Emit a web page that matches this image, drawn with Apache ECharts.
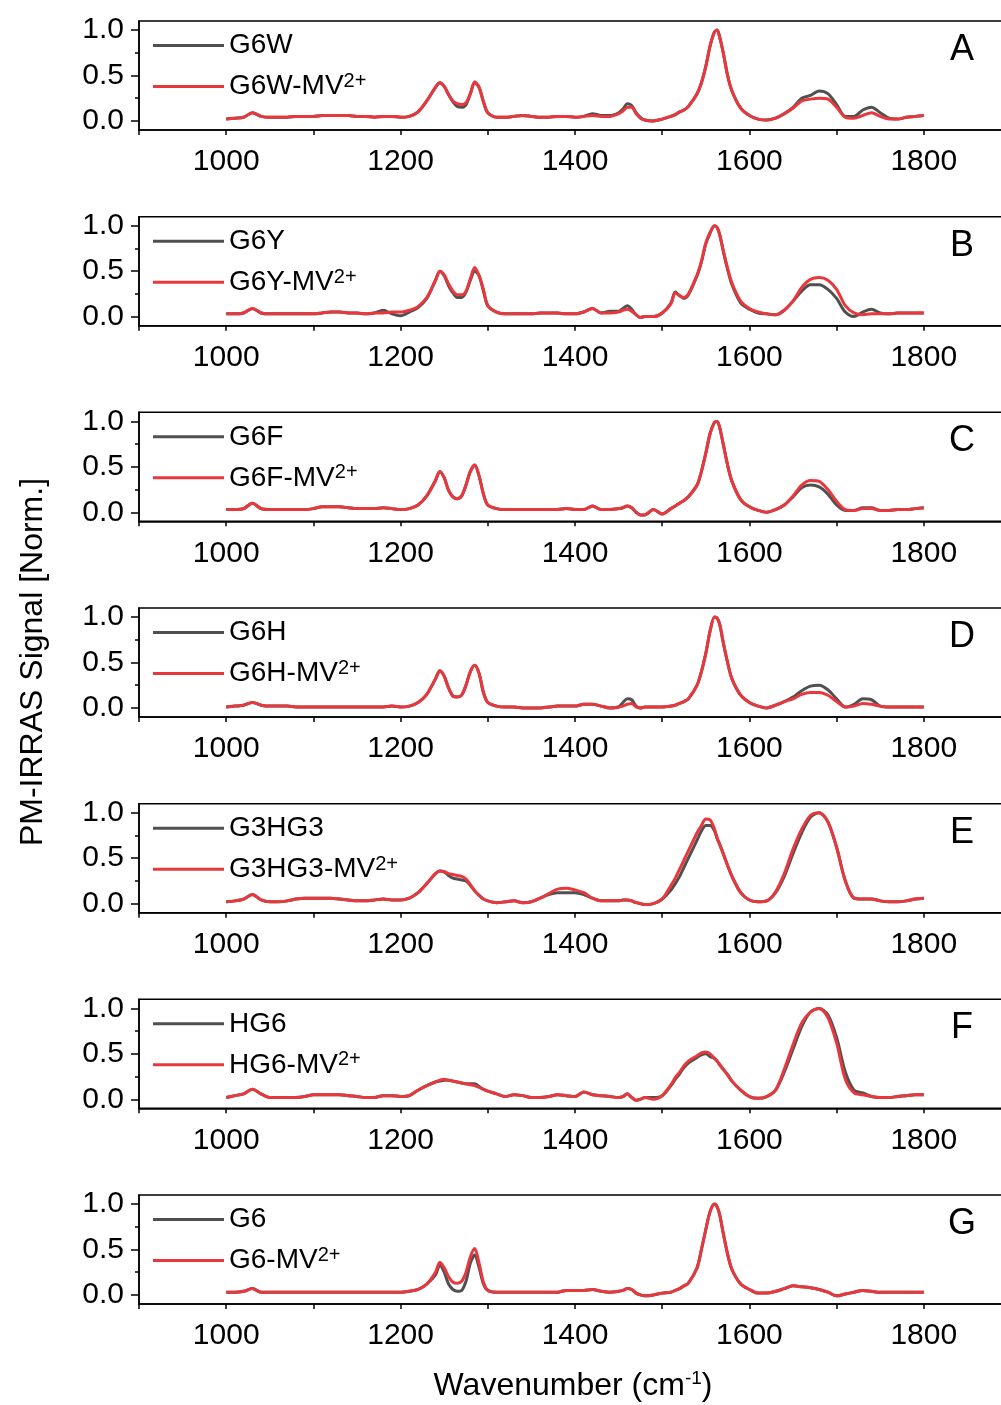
<!DOCTYPE html>
<html>
<head>
<meta charset="utf-8">
<title>PM-IRRAS spectra</title>
<script src="https://cdn.jsdelivr.net/npm/echarts@6/dist/echarts.min.js"></script>
<style>
  html, body { margin: 0; padding: 0; background: #fff; }
  #chart { width: 1001px; height: 1405px; }
</style>
</head>
<body>
<div id="chart"></div>
<script>
// wavenumber grid (cm-1), finer around the sharp bands
var wavenumber = [1000,1010,1020,1030,1040,1050,1060,1070,1080,1090,1100,1110,1120,1130,1140,1150,1160,1170,1180,1190,1200,1210,1220,1230,1240,
  1245,1250,1255,1260,1265,1270,1275,1280,1285,1290,1295,
  1300,1310,1320,1330,1340,1350,1360,1370,1380,1390,1400,1410,1420,1430,1440,1450,
  1455,1460,1465,1470,1475,
  1480,1490,1500,1510,
  1515,1520,1525,1530,
  1540,1545,1550,1555,1560,1563,1566,1570,1575,1580,
  1590,1600,1610,1620,1630,1640,1650,1660,1670,1680,1690,1700,1710,1720,1730,1740,1750,1760,1770,1780,1790,1800];

// panel A
var g6w = [.02,.03,.04,.09,.05,.04,.04,.04,.05,.05,.05,.06,.06,.06,.06,.05,.05,.04,.05,.05,.04,.05,.10,.22,.37,
  .42,.38,.29,.21,.16,.15,.18,.30,.42,.37,.21,
  .09,.04,.04,.05,.06,.05,.04,.04,.05,.05,.04,.05,.08,.06,.06,.09,
  .13,.19,.17,.09,.04,
  .01,.00,.02,.05,
  .07,.10,.12,.16,
  .30,.42,.60,.83,.98,1.00,.92,.75,.50,.33,
  .14,.06,.02,.01,.03,.08,.15,.25,.28,.33,.30,.18,.05,.05,.12,.15,.09,.03,.02,.04,.05,.06];
var g6wMv = [.02,.03,.04,.09,.05,.04,.04,.04,.05,.05,.05,.06,.06,.06,.06,.05,.05,.04,.05,.05,.04,.05,.10,.22,.37,
  .42,.38,.29,.22,.19,.18,.20,.30,.43,.37,.21,
  .09,.04,.04,.05,.06,.05,.04,.04,.05,.05,.04,.05,.06,.05,.05,.08,
  .11,.15,.15,.08,.03,
  .01,.00,.02,.05,
  .07,.10,.12,.16,
  .30,.42,.60,.83,.98,1.00,.92,.75,.50,.33,
  .14,.06,.02,.01,.03,.08,.14,.22,.24,.25,.24,.15,.04,.03,.06,.09,.05,.02,.02,.04,.05,.06];

// panel B
var g6y = [.03,.03,.04,.09,.04,.03,.03,.03,.03,.03,.03,.04,.05,.05,.04,.04,.03,.04,.07,.03,.01,.05,.10,.20,.40,
  .50,.45,.34,.26,.21,.21,.27,.40,.50,.45,.28,
  .12,.05,.03,.03,.03,.03,.04,.04,.04,.03,.03,.05,.09,.04,.06,.06,
  .09,.12,.08,.02,-.01,
  .00,.00,.04,.15,
  .27,.23,.20,.24,
  .45,.60,.80,.92,1.00,.98,.90,.72,.52,.35,
  .15,.08,.04,.03,.02,.07,.17,.28,.35,.35,.30,.20,.05,.00,.05,.08,.04,.03,.04,.04,.04,.04];
var g6yMv = [.03,.03,.04,.09,.04,.03,.03,.03,.03,.03,.03,.04,.05,.05,.04,.04,.03,.04,.04,.05,.05,.07,.11,.21,.40,
  .50,.46,.36,.28,.24,.24,.28,.42,.54,.45,.30,
  .12,.05,.03,.03,.03,.03,.04,.04,.04,.03,.03,.05,.09,.04,.04,.05,
  .07,.08,.06,.02,-.01,
  .00,.00,.04,.14,
  .26,.23,.21,.25,
  .46,.61,.81,.93,1.00,.98,.90,.73,.53,.37,
  .17,.09,.05,.03,.02,.07,.17,.32,.41,.43,.40,.30,.12,.04,.02,.03,.03,.03,.04,.04,.04,.04];

// panel C
var g6f = [.03,.03,.04,.10,.04,.03,.03,.03,.03,.03,.04,.06,.06,.06,.05,.04,.04,.04,.05,.04,.03,.04,.08,.18,.35,
  .45,.38,.24,.17,.15,.18,.30,.45,.52,.40,.20,
  .08,.04,.03,.03,.03,.03,.03,.03,.03,.04,.03,.03,.07,.03,.03,.04,
  .05,.07,.05,.00,-.03,
  -.03,.03,-.02,.04,
  .07,.10,.13,.17,
  .30,.45,.65,.87,.99,1.00,.93,.75,.52,.34,
  .14,.06,.02,.00,.03,.08,.17,.27,.30,.28,.20,.08,.02,.02,.05,.05,.02,.02,.03,.03,.04,.05];
var g6fMv = [.03,.03,.04,.10,.04,.03,.03,.03,.03,.03,.04,.06,.06,.06,.05,.04,.04,.04,.05,.04,.03,.04,.08,.18,.35,
  .45,.38,.24,.17,.15,.18,.30,.45,.52,.40,.20,
  .08,.04,.03,.03,.03,.03,.03,.03,.03,.04,.03,.03,.07,.03,.03,.04,
  .05,.07,.05,.00,-.03,
  -.03,.03,-.02,.04,
  .07,.10,.13,.17,
  .30,.45,.65,.87,.99,1.00,.93,.75,.52,.34,
  .14,.06,.02,.00,.03,.08,.18,.30,.35,.34,.25,.12,.03,.02,.04,.04,.02,.02,.03,.03,.04,.05];

// panel D
var g6h = [.01,.02,.03,.06,.03,.02,.02,.02,.01,.01,.01,.01,.01,.01,.01,.01,.01,.01,.01,.02,.01,.02,.06,.15,.32,
  .41,.35,.22,.13,.12,.14,.25,.40,.47,.38,.17,
  .06,.02,.01,.01,.00,.00,.00,.01,.02,.02,.02,.04,.04,.02,.00,.01,
  .06,.10,.09,.02,.00,
  .01,.01,.01,.02,
  .03,.05,.07,.10,
  .25,.40,.60,.85,1.00,.99,.92,.72,.50,.32,
  .14,.06,.02,.00,.03,.07,.12,.19,.24,.25,.20,.10,.01,.04,.10,.09,.02,.01,.01,.01,.01,.01];
var g6hMv = [.01,.02,.03,.06,.03,.02,.02,.02,.01,.01,.01,.01,.01,.01,.01,.01,.01,.01,.01,.02,.01,.02,.06,.15,.32,
  .41,.35,.22,.13,.12,.14,.25,.40,.47,.38,.17,
  .06,.02,.01,.01,.00,.00,.00,.01,.02,.02,.02,.04,.04,.02,.00,.01,
  .02,.04,.05,.01,.00,
  .01,.01,.01,.02,
  .03,.05,.07,.10,
  .25,.40,.60,.85,1.00,.99,.92,.72,.50,.32,
  .14,.06,.02,.00,.03,.07,.10,.15,.17,.17,.14,.07,.01,.02,.05,.04,.02,.01,.01,.01,.01,.01];

// panel E
var g3hg3 = [.02,.03,.05,.10,.04,.02,.02,.03,.05,.06,.06,.06,.06,.05,.04,.03,.03,.04,.05,.04,.04,.06,.12,.22,.33,
  .36,.35,.31,.28,.27,.26,.25,.20,.14,.09,.05,
  .03,.01,.02,.03,.01,.02,.06,.10,.12,.12,.12,.10,.06,.03,.03,.03,
  .04,.04,.03,.01,.00,
  -.01,.00,.05,.15,
  .22,.30,.40,.50,
  .70,.80,.86,.86,.80,.72,.65,.55,.42,.30,
  .12,.04,.02,.03,.12,.30,.55,.78,.95,1.00,.90,.62,.25,.06,.05,.05,.03,.02,.02,.03,.05,.06];
var g3hg3Mv = [.02,.03,.05,.10,.04,.02,.02,.03,.05,.06,.06,.06,.06,.05,.04,.03,.03,.04,.05,.04,.04,.06,.12,.22,.33,
  .36,.35,.33,.32,.31,.30,.27,.21,.14,.09,.05,
  .03,.01,.02,.03,.01,.02,.06,.11,.16,.17,.15,.12,.06,.03,.03,.03,
  .04,.04,.03,.01,.00,
  -.01,.00,.05,.20,
  .28,.38,.48,.58,
  .78,.86,.93,.92,.82,.72,.65,.55,.42,.30,
  .12,.04,.02,.03,.13,.33,.60,.82,.97,1.00,.90,.62,.25,.06,.05,.05,.03,.02,.02,.03,.05,.06];

// panel F
var hg6 = [.02,.04,.06,.11,.06,.02,.02,.02,.02,.03,.05,.05,.05,.05,.04,.03,.02,.02,.04,.04,.03,.04,.10,.15,.19,
  .20,.21,.21,.20,.19,.18,.17,.17,.17,.14,.11,
  .09,.06,.03,.05,.04,.02,.02,.03,.05,.04,.03,.08,.05,.04,.03,.02,
  .03,.06,.02,-.01,.00,
  .02,.02,.04,.15,
  .22,.28,.35,.40,
  .46,.49,.50,.47,.45,.42,.38,.33,.27,.20,
  .10,.03,.01,.03,.10,.30,.55,.80,.96,1.00,.93,.68,.30,.10,.07,.03,.02,.02,.03,.04,.05,.05];
var hg6Mv = [.02,.04,.06,.11,.06,.02,.02,.02,.02,.03,.05,.05,.05,.05,.04,.03,.02,.02,.04,.04,.03,.04,.10,.15,.19,
  .21,.22,.21,.20,.19,.18,.17,.16,.15,.13,.11,
  .09,.06,.03,.05,.04,.02,.02,.03,.05,.04,.03,.08,.05,.04,.03,.02,
  .03,.06,.02,-.01,.00,
  .02,.00,.04,.16,
  .24,.30,.37,.42,
  .48,.51,.52,.50,.45,.42,.38,.33,.27,.20,
  .10,.03,.01,.03,.10,.33,.60,.84,.96,1.00,.90,.62,.22,.07,.05,.03,.02,.02,.03,.04,.05,.05];

// panel G
var g6 = [.03,.03,.04,.07,.03,.03,.03,.03,.03,.03,.03,.03,.03,.03,.03,.03,.03,.03,.03,.03,.03,.04,.06,.12,.22,
  .33,.25,.12,.06,.04,.05,.15,.35,.44,.30,.12,
  .05,.03,.03,.03,.03,.03,.03,.03,.03,.05,.05,.05,.06,.04,.03,.04,
  .05,.07,.06,.02,.00,
  -.01,.00,.02,.03,
  .05,.07,.10,.13,
  .30,.50,.72,.92,1.00,.97,.88,.68,.45,.28,
  .12,.06,.02,.02,.04,.07,.10,.09,.08,.06,.03,-.01,.01,.03,.05,.04,.03,.03,.03,.03,.03,.03];
var g6Mv = [.03,.03,.04,.07,.03,.03,.03,.03,.03,.03,.03,.03,.03,.03,.03,.03,.03,.03,.03,.03,.03,.04,.06,.12,.25,
  .36,.30,.20,.14,.13,.15,.25,.42,.51,.35,.14,
  .05,.03,.03,.03,.03,.03,.03,.03,.03,.05,.05,.05,.06,.04,.03,.04,
  .05,.07,.06,.02,.00,
  -.01,.00,.02,.03,
  .05,.07,.10,.13,
  .30,.50,.72,.92,1.00,.97,.88,.68,.45,.28,
  .12,.06,.02,.02,.04,.07,.10,.09,.08,.06,.03,-.01,.01,.03,.05,.04,.03,.03,.03,.03,.03,.03];

// axis ticks / labels
var xLabels = [1000, 1200, 1400, 1600, 1800];
var yTicks = [0, 0.5, 1.0];
var yMinorTicks = [0.25, 0.75];
var panelLetters = ['A', 'B', 'C', 'D', 'E', 'F', 'G'];
var seriesNames = [
  ['G6W', 'G6W-MV2+'], ['G6Y', 'G6Y-MV2+'], ['G6F', 'G6F-MV2+'], ['G6H', 'G6H-MV2+'],
  ['G3HG3', 'G3HG3-MV2+'], ['HG6', 'HG6-MV2+'], ['G6', 'G6-MV2+']
];
var seriesValues = [
  [g6w, g6wMv], [g6y, g6yMv], [g6f, g6fMv], [g6h, g6hMv],
  [g3hg3, g3hg3Mv], [hg6, hg6Mv], [g6, g6Mv]
];

var FONT = '"Liberation Sans", Arial, sans-serif';
var colors = ['#505050', '#e8383d'];
var TOP0 = 21, STEP = 195.67, H = 109;

function pairs(vals) {
  return wavenumber.map(function (w, k) { return [w, vals[k]]; });
}

//写上标 MV2+
function legendText(name) {
  if (name.slice(-2) === '2+') return name.slice(0, -2) + '{sup|2+}';
  return name;
}

var grids = [], xAxes = [], yAxes = [], series = [], legends = [], graphics = [];

panelLetters.forEach(function (letter, i) {
  var top = TOP0 + i * STEP;
  // 右边框在画面外（原图被裁切）
  grids.push({
    left: 139, width: 872, top: top, height: H,
    outerBoundsMode: 'none', containLabel: false,
    show: true, borderColor: '#000', borderWidth: 1.5, backgroundColor: 'transparent'
  });
  xAxes.push({
    gridIndex: i, type: 'value', min: 900, max: 1900, interval: 100,
    axisLine: { show: true, onZero: false, lineStyle: { color: '#000', width: 1.5 } },
    axisTick: { show: true, length: 5, lineStyle: { color: '#000', width: 1.5 } },
    axisLabel: {
      customValues: xLabels, fontSize: 30, color: '#000', fontFamily: FONT, margin: 17,
      formatter: function (v) { return String(v); }
    },
    splitLine: { show: false }
  });
  yAxes.push({
    gridIndex: i, type: 'value', min: -0.1, max: 1.1, position: 'left',
    axisLine: { show: true, onZero: false, lineStyle: { color: '#000', width: 1.5 } },
    axisTick: { show: true, length: 8, customValues: yTicks, lineStyle: { color: '#000', width: 1.5 } },
    axisLabel: {
      customValues: yTicks, fontSize: 30, color: '#000', fontFamily: FONT, margin: 15,
      formatter: function (v) { return v.toFixed(1); }
    },
    splitLine: { show: false }
  });
  // minor ticks
  yAxes.push({
    gridIndex: i, type: 'value', min: -0.1, max: 1.1, position: 'left', offset: 0,
    axisLine: { show: false },
    axisTick: { show: true, length: 4, customValues: yMinorTicks, lineStyle: { color: '#000', width: 1.5 } },
    axisLabel: { show: false },
    splitLine: { show: false }
  });

  seriesNames[i].forEach(function (name, j) {
    series.push({
      type: 'line', name: name, xAxisIndex: i, yAxisIndex: 2 * i,
      data: pairs(seriesValues[i][j]),
      showSymbol: false, symbol: 'none', smooth: 0.3,
      color: colors[j],
      lineStyle: { width: 3, color: colors[j] },
      itemStyle: { color: colors[j] },
      z: 2 + j
    });
  });

  legends.push({
    orient: 'vertical', left: 153, top: top + 9.5, padding: 0,
    itemWidth: 71, itemHeight: 3, itemGap: 11, icon: 'rect',
    selectedMode: false, data: seriesNames[i],
    formatter: legendText,
    textStyle: {
      fontSize: 28, fontFamily: FONT, color: '#000', lineHeight: 30,
      rich: { sup: { fontSize: 20, fontFamily: FONT, color: '#000', lineHeight: 8, verticalAlign: 'top' } }
    }
  });

  graphics.push({
    type: 'text', x: 962, y: top + 29,
    style: { text: letter, fontSize: 36, fontFamily: FONT, fill: '#000', align: 'center', verticalAlign: 'middle' }
  });
});

graphics.push({
  type: 'text', x: 33, y: 662, rotation: Math.PI / 2,
  style: { text: 'PM-IRRAS Signal [Norm.]', fontSize: 32, fontFamily: FONT, fill: '#000', align: 'center', verticalAlign: 'middle' }
});
graphics.push({
  type: 'text', x: 573, y: 1386,
  style: {
    text: 'Wavenumber (cm{sup|-1})', fontSize: 32, fontFamily: FONT, fill: '#000',
    align: 'center', verticalAlign: 'middle', lineHeight: 34,
    rich: { sup: { fontSize: 19, fontFamily: FONT, fill: '#000', lineHeight: 12, verticalAlign: 'top' } }
  }
});

var chart = echarts.init(document.getElementById('chart'));
chart.setOption({
  animation: false,
  backgroundColor: '#fff',
  grid: grids,
  xAxis: xAxes,
  yAxis: yAxes,
  legend: legends,
  series: series,
  graphic: graphics
});
</script>
</body>
</html>
